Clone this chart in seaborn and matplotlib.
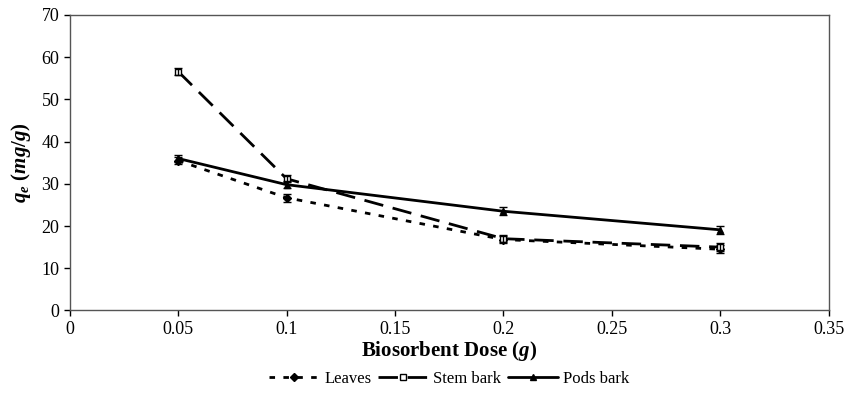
import matplotlib
matplotlib.use("Agg")
import matplotlib.pyplot as plt
import seaborn as sns
import pandas as pd

dose = [0.05, 0.1, 0.2, 0.3]
leaves = [35.5, 26.7, 16.8, 14.5]
stem_bark = [56.6, 31.2, 17.0, 15.0]
pods_bark = [36.0, 29.8, 23.5, 19.1]
leaves_err = [0.8, 1.0, 0.8, 1.0]
stem_err = [0.8, 0.8, 0.8, 1.0]
pods_err = [0.9, 0.9, 0.9, 1.0]

sns.set_theme(style="ticks")
plt.rcParams['font.family'] = ['Liberation Serif', 'DejaVu Serif']
plt.rcParams['mathtext.fontset'] = 'custom'
plt.rcParams['mathtext.it'] = 'Liberation Serif:italic:bold'
plt.rcParams['mathtext.rm'] = 'Liberation Serif:bold'
plt.rcParams['mathtext.bf'] = 'Liberation Serif:bold'

fig, ax = plt.subplots(figsize=(8.5, 3.93), dpi=100)
fig.subplots_adjust(left=0.082, right=0.975, top=0.962, bottom=0.21)

series = [
    ("Leaves", leaves, leaves_err, (0, (2, 3)), "D", "black", 4),
    ("Stem bark", stem_bark, stem_err, (0, (7, 3.5)), "s", "white", 5),
    ("Pods bark", pods_bark, pods_err, "-", "^", "black", 5),
]
for name, vals, err, ls, mk, mfc, ms in series:
    df = pd.DataFrame({"dose": dose, "qe": vals})
    sns.lineplot(data=df, x="dose", y="qe", ax=ax, color="black", linewidth=2,
                 linestyle=ls, marker=mk, markerfacecolor=mfc, markeredgecolor="black",
                 markersize=ms, markeredgewidth=1, label=name)
    ax.errorbar(dose, vals, yerr=err, fmt="none", ecolor="black", elinewidth=1, capsize=3)

ax.set_xlim(0, 0.35)
ax.set_ylim(0, 70)
ax.set_xticks([0, 0.05, 0.1, 0.15, 0.2, 0.25, 0.3, 0.35])
ax.set_xticklabels(["0", "0.05", "0.1", "0.15", "0.2", "0.25", "0.3", "0.35"])
ax.set_yticks(range(0, 71, 10))
ax.tick_params(labelsize=13, direction="out", length=4, width=1, colors="black")
for s in ax.spines.values():
    s.set_color("#555555")
    s.set_linewidth(1)
ax.set_xlabel(r"Biosorbent Dose $(g)$", fontsize=15, fontweight="bold", color="black", labelpad=1)
ax.set_ylabel(r"$q_e\ (mg/g)$", fontsize=15, color="black", labelpad=6)

leg = ax.legend(loc="upper center", bbox_to_anchor=(0.5, -0.155), ncol=3, frameon=False,
                fontsize=12, handlelength=3, columnspacing=0.4, handletextpad=0.3)
for t in leg.get_texts():
    t.set_color("black")
fig.savefig("out.png", dpi=100)
